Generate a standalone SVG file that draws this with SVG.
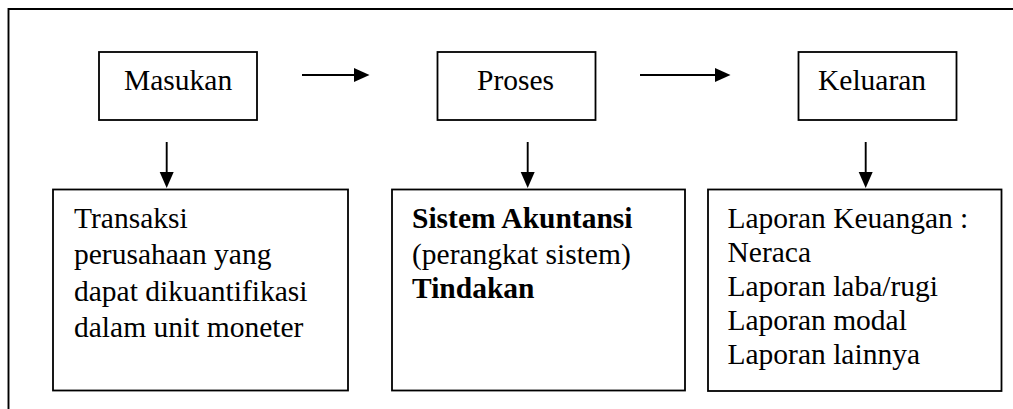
<svg xmlns="http://www.w3.org/2000/svg" width="1013" height="409" viewBox="0 0 1013 409">
<style>
.box{fill:#fff;stroke:#000;stroke-width:1.8}
.t{font-family:"Liberation Serif","Times New Roman",serif;font-size:29.5px;fill:#000}
.b{font-weight:bold}
.ln{stroke:#000;stroke-width:1.9;fill:none}
.ah{fill:#000}
</style>
<rect width="1013" height="409" fill="#fff"/>
<g id="frame">
<path class="ln" d="M8.5,409 V9 H1013" stroke-width="2"/>
</g>
<g id="masukan">
<rect class="box" x="99" y="52" width="158" height="68"/>
<text class="t" x="124" y="90">Masukan</text>
</g>
<g id="proses">
<rect class="box" x="437.5" y="52" width="158" height="68"/>
<text class="t" x="477" y="90">Proses</text>
</g>
<g id="keluaran">
<rect class="box" x="798.5" y="52" width="158" height="68"/>
<text class="t" x="818" y="90">Keluaran</text>
</g>
<g id="transaksi">
<rect class="box" x="53" y="189.5" width="295" height="201"/>
<text class="t" x="74"><tspan x="74" y="227.5">Transaksi</tspan><tspan x="74" y="264">perusahaan yang</tspan><tspan x="74" y="300.5">dapat dikuantifikasi</tspan><tspan x="74" y="337">dalam unit moneter</tspan></text>
</g>
<g id="sistem">
<rect class="box" x="392" y="189.5" width="293" height="201"/>
<text class="t" x="412"><tspan x="412" y="228" class="b">Sistem Akuntansi</tspan><tspan x="412" y="263.5">(perangkat sistem)</tspan><tspan x="412" y="297.5" class="b">Tindakan</tspan></text>
</g>
<g id="laporan">
<rect class="box" x="708" y="189.5" width="293.5" height="201.5"/>
<text class="t" x="727.5"><tspan x="727.5" y="228">Laporan Keuangan :</tspan><tspan x="727.5" y="262">Neraca</tspan><tspan x="727.5" y="296">Laporan laba/rugi</tspan><tspan x="727.5" y="330">Laporan modal</tspan><tspan x="727.5" y="364">Laporan lainnya</tspan></text>
</g>
<g id="connectors">
<line class="ln" x1="302" y1="75" x2="356" y2="75"/>
<polygon class="ah" points="354,68 369.5,75 354,82"/>
<line class="ln" x1="640" y1="75" x2="717" y2="75"/>
<polygon class="ah" points="715,68 730.5,75 715,82"/>
<line class="ln" x1="166.7" y1="142" x2="166.7" y2="174"/>
<polygon class="ah" points="159.7,172 173.7,172 166.7,188"/>
<line class="ln" x1="527.7" y1="142" x2="527.7" y2="174"/>
<polygon class="ah" points="520.7,172 534.7,172 527.7,188"/>
<line class="ln" x1="865.7" y1="142" x2="865.7" y2="174"/>
<polygon class="ah" points="858.7,172 872.7,172 865.7,188"/>
</g>
</svg>
